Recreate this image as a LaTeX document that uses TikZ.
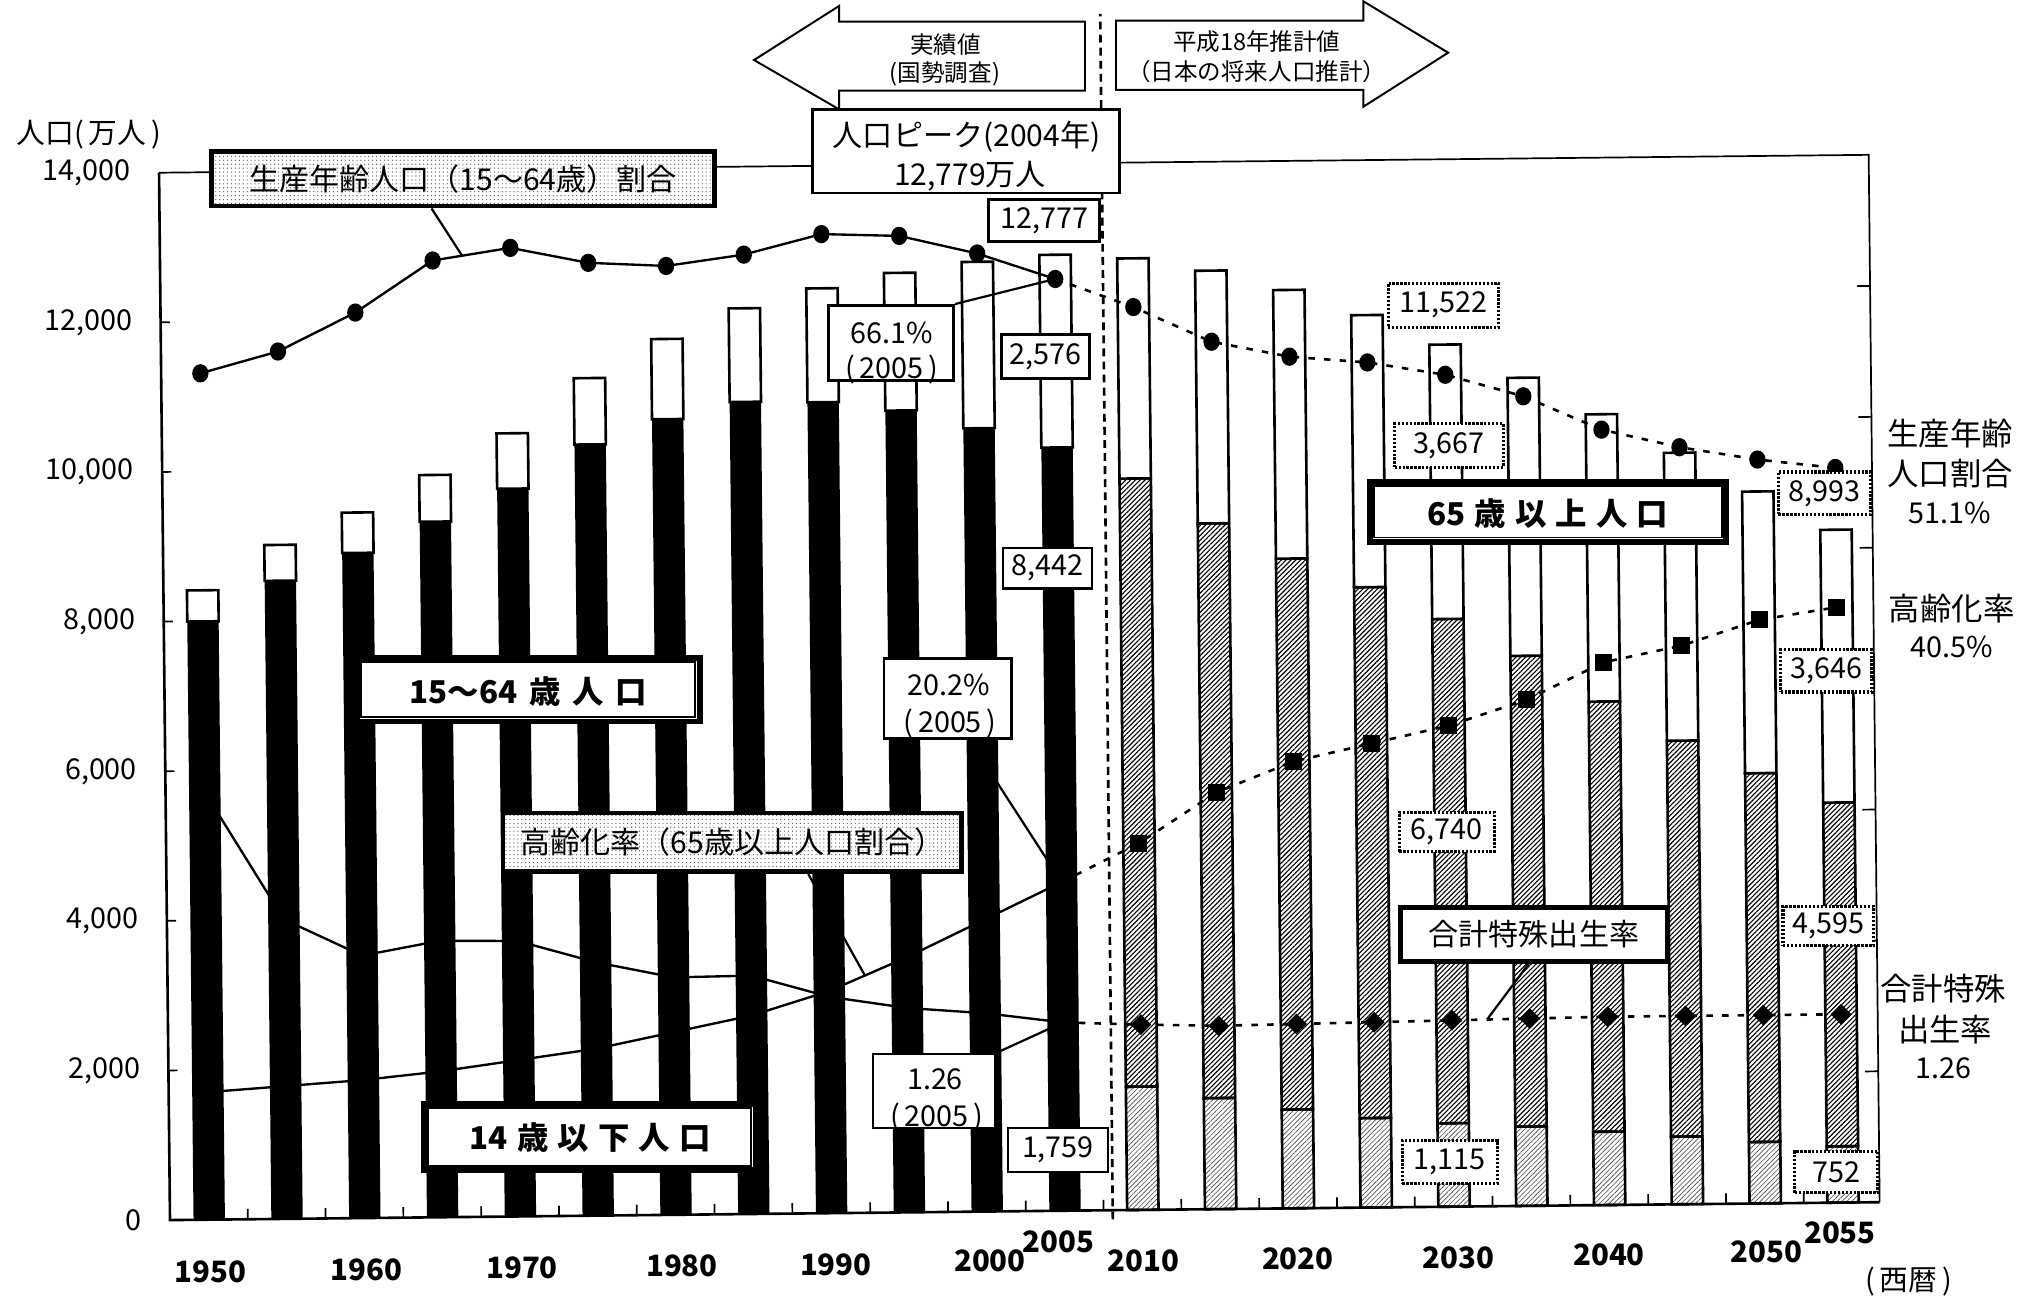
\documentclass[tikz,border=0pt]{standalone}
\usepackage{fontspec}
\setmainfont{Noto Sans CJK JP}
\usetikzlibrary{patterns,patterns.meta,shapes.geometric,calc}
\newcommand\fsz[1]{\fontsize{#1}{#1}\selectfont}
\newcommand\gp{\hspace{7pt}}
\begin{document}
\begin{tikzpicture}[x=1pt,y=1pt,
  barline/.style={draw=black,line width=2pt},
  lightpat/.style={pattern={Lines[angle=45,distance=2.6pt,line width=0.5pt]},pattern color=black!70},
  darkpat/.style={pattern={Lines[angle=45,distance=2.6pt,line width=0.85pt]},pattern color=black},
  sline/.style={line width=1.8pt,line join=round},
  dline/.style={line width=2pt,dash pattern=on 5pt off 7pt},
  conn/.style={line width=1.7pt},
  cmark/.style={ellipse,fill=black,inner sep=0pt,minimum width=12.5pt,minimum height=14pt},
  smark/.style={rectangle,fill=black,inner sep=0pt,minimum size=13pt},
  dmark/.style={diamond,fill=black,inner sep=0pt,minimum width=16pt,minimum height=16pt},
  plainbox/.style={draw,line width=2pt,fill=white,inner sep=0pt,font=\fsz{22}},
  dotbox/.style={draw,line width=2.4pt,dash pattern=on 1.8pt off 1.2pt,fill=white,inner sep=0pt,font=\fsz{22}},
  stipbox/.style={draw,line width=3.5pt,preaction={fill=white},pattern=dots,pattern color=black!65,inner sep=0pt,font=\fsz{23}},
  dblbox/.style={draw,line width=4.5pt,fill=white,inner sep=0pt},
  boldlab/.style={font=\fsz{24}\bfseries,inner sep=0pt},
  lab/.style={font=\fsz{23},inner sep=0pt},
  numlab/.style={font=\fsz{22},inner sep=0pt},
  smalllab/.style={font=\fsz{18},inner sep=0pt},
  sidelab/.style={font=\fsz{24},inner sep=0pt},
  yearlab/.style={font=\fsz{22.5}\bfseries,inner sep=0pt},
  ticklab/.style={font=\fsz{22},inner sep=0pt,anchor=east},
  sepline/.style={line width=2pt,dash pattern=on 6pt off 4pt},
  tickline/.style={line width=1.3pt}
]
\useasboundingbox (0,0) rectangle (1560,-992.6);
\fill[white] (0,0) rectangle (1560,-992.6);

% ---------------- chart (slightly rotated like the scan) ----------------
\begin{scope}[shift={(130,-933)},rotate=0.6]
  % actual bars (census)
  \foreach \k/\a/\b/\c in {0/2979/5017/416,1/3012/5517/479,2/2843/6047/540,3/2553/6744/624,
      4/2515/7212/740,5/2723/7584/887,6/2751/7883/1072,7/2603/8251/1251,8/2249/8590/1522,
      9/2001/8716/1840,10/1847/8622/2224,11/1759/8442/2576}{
    \pgfmathsetmacro\xl{30+59.5*\k-12}
    \pgfmathsetmacro\xr{30+59.5*\k+12}
    \pgfmathsetmacro\yb{(\a+\b)*0.057214}
    \pgfmathsetmacro\yc{(\a+\b+\c)*0.057214}
    \fill[black] (\xl,0) rectangle (\xr,\yb);
    \draw[barline,fill=white] (\xl,\yb) rectangle (\xr,\yc);
  }
  % projected bars
  \foreach \k/\a/\b/\c in {12/1648/8128/2942,13/1484/7681/3378,14/1321/7363/3590,15/1195/7096/3636,
      16/1115/6740/3667,17/1060/6292/3716,18/980/5750/3839,19/904/5292/3848,20/821/4930/3764,
      21/752/4595/3646}{
    \pgfmathsetmacro\xl{30+59.5*\k-12}
    \pgfmathsetmacro\xr{30+59.5*\k+12}
    \pgfmathsetmacro\ya{\a*0.057214}
    \pgfmathsetmacro\yb{(\a+\b)*0.057214}
    \pgfmathsetmacro\yc{(\a+\b+\c)*0.057214}
    \draw[barline,lightpat] (\xl,0) rectangle (\xr,\ya);
    \draw[barline,darkpat] (\xl,\ya) rectangle (\xr,\yb);
    \draw[barline,fill=white] (\xl,\yb) rectangle (\xr,\yc);
  }
  % frame, axes, ticks
  \draw[line width=1.3pt] (0,801) -- (1307.5,801) -- (1307.5,0);
  \draw[line width=2pt] (0,801) -- (0,0) -- (1307.5,0);
  \foreach \k in {1,...,6} \draw[tickline] (0,{114.43*\k}) -- (7,{114.43*\k});
  \foreach \k in {1,...,7} \draw[tickline] (1307.5,{100.1*\k}) -- (1297.5,{100.1*\k});
  \foreach \k in {1,...,21} \draw[tickline] ({59.5*\k},0) -- ({59.5*\k},8);
  \foreach \k/\t in {0/0,1/{2,000},2/{4,000},3/{6,000},4/{8,000},5/{10,000},6/{12,000},7/{14,000}}
    \node[ticklab] (yl\k) at (-21.5,{114.43*\k}) {\t};
  \coordinate (septop) at (721,915);
  \coordinate (sepbot) at (721,-7);
  \draw[sepline] (sepbot) -- (septop);
  % series points
  \foreach \v [count=\i from 0] in {59.6,61.2,64.1,68.0,68.9,67.7,67.4,68.2,69.7,69.5,68.1,66.1,
      63.9,61.2,60.0,59.5,58.5,56.8,54.2,52.8,51.8,51.1}
    \coordinate (c\i) at ({30+59.5*\i},{48.3+10.05*\v});
  \foreach \v [count=\i from 0] in {4.9,5.3,5.7,6.3,7.1,7.9,9.1,10.3,12.1,14.6,17.4,20.2,
      23.1,26.9,29.2,30.5,31.8,33.7,36.5,37.7,39.6,40.5}
    \coordinate (a\i) at ({30+59.5*\i},{48.3+10.05*\v});
  \foreach \v [count=\i from 0] in {3.65,2.37,2.00,2.14,2.13,1.91,1.75,1.76,1.54,1.42,1.36,1.26,
      1.23,1.21,1.22,1.23,1.24,1.25,1.26,1.26,1.26,1.26}
    \coordinate (t\i) at ({30+59.5*\i},{47.5+76.6*\v});
  % lines
  \draw[sline] (c0) \foreach \i in {1,...,11}{ -- (c\i)};
  \draw[sline] (a0) \foreach \i in {1,...,11}{ -- (a\i)};
  \draw[sline] (t0) \foreach \i in {1,...,11}{ -- (t\i)};
  \draw[dline] (c11) \foreach \i in {12,...,21}{ -- (c\i)};
  \draw[dline] (a11) \foreach \i in {12,...,21}{ -- (a\i)};
  \draw[dline] (t11) \foreach \i in {12,...,21}{ -- (t\i)};
  \foreach \i in {0,...,21} \node[cmark] (mc\i) at (c\i) {};
  \foreach \i in {12,...,21} \node[smark] (ma\i) at (a\i) {};
  \foreach \i in {12,...,21} \node[dmark] (mt\i) at (t\i) {};
  \coordinate (cq) at ($(c3)!0.38!(c4)$);
  \coordinate (aq) at ($(a8)!0.46!(a9)$);
  \coordinate (tq) at ($(t16)!0.45!(t17)$);
\end{scope}

% ---------------- top arrows ----------------
\draw[line width=1.5pt,fill=white] (829.7,-16.6) -- (641.6,-16.6) -- (641.6,-4.6) -- (576.6,-45.9)
  -- (641.6,-83.6) -- (641.6,-69.3) -- (829.7,-69.3) -- cycle;
\draw[line width=1.5pt,fill=white] (853.4,-15.8) -- (1042.6,-15.8) -- (1042.6,-1) -- (1107.4,-40.3)
  -- (1042.6,-81.6) -- (1042.6,-68.8) -- (853.4,-68.8) -- cycle;
\node[smalllab] (jisseki) at (723.2,-34.4) {実績値};
\node[smalllab] (kokusei) at (722.6,-56.6) {(国勢調査)};
\node[smalllab] (heisei) at (961,-31.9) {平成18年推計値};
\node[smalllab] (shorai) at (961,-54.8) {（日本の将来人口推計）};

% ---------------- axis title ----------------
\node[font=\fsz{22},inner sep=0pt] (ytitle) at (68,-103) {人口(\,万人\,)};

% ---------------- boxes ----------------
\node[plainbox,minimum width=235,minimum height=63.8] (peak) at (738.7,-115.7) {};
\node[lab] (peak1) at (739.2,-104.5) {人口ピーク(2004年)};
\node[lab] (peak2) at (741.8,-135.1) {12,779万人};

\node[stipbox,minimum width=384.9,minimum height=41.7] (labwa) at (354,-136.8) {生産年齢人口（15～64歳）割合};
\draw[conn] ([xshift=-24pt]labwa.south) -- (cq);

\node[stipbox,minimum width=350.7,minimum height=44.9] (labak) at (560.1,-644.2) {高齢化率（65歳以上人口割合）};
\draw[conn] ([xshift=58pt]labak.south) -- (aq);

\node[plainbox,minimum width=85,minimum height=31.9] (b12777) at (798.5,-168.65) {12,777};
\node[plainbox,minimum width=67.3,minimum height=33.7] (b2576) at (799.35,-272.75) {2,576};
\node[plainbox,minimum width=68,minimum height=31] (b8442) at (801,-434.5) {8,442};
\node[plainbox,minimum width=76.5,minimum height=33.6] (b1759) at (809,-879.4) {1,759};

\node[plainbox,minimum width=95.6,minimum height=57.4] (b661) at (681.5,-262.2) {};
\node[numlab] (b661a) at (681.9,-254.9) {66.1\%};
\node[numlab] (b661b) at (681.9,-282.5) {(\,2005\,)};
\draw[conn] (b661.north east) -- (c11);

\node[plainbox,minimum width=97.4,minimum height=61.2] (b202) at (724.7,-534.3) {};
\node[numlab] (b202a) at (725.2,-523.8) {20.2\%};
\node[numlab] (b202b) at (726.5,-553.6) {(\,2005\,)};
\draw[conn] ([xshift=16.8pt]b202.south) -- (a11);

\node[plainbox,minimum width=93.6,minimum height=56.6] (b126) at (714.4,-834.3) {};
\node[numlab] (b126a) at (715,-825.1) {1.26};
\node[numlab] (b126b) at (716.3,-854.5) {(\,2005\,)};
\draw[conn] (b126.north east) -- (t11);

% double bordered labels
\node[dblbox,minimum width=261.9,minimum height=48.5] (d1564) at (404,-527.5) {};
\draw[line width=1.4pt] ($(d1564.south west)+(5.5,5.5)$) rectangle ($(d1564.north east)+(-5.5,-5.5)$);
\node[boldlab] (l1564) at (404,-529) {15～64\hspace{9pt}歳\hspace{9pt}人\hspace{9pt}口};

\node[dblbox,minimum width=253.5,minimum height=50.5] (d14) at (451,-869.5) {};
\draw[line width=1.4pt] ($(d14.south west)+(5.5,5.5)$) rectangle ($(d14.north east)+(-5.5,-5.5)$);
\node[boldlab] (l14) at (451.4,-870) {14\gp 歳\gp 以\gp 下\gp 人\gp 口};

\node[dblbox,minimum width=272,minimum height=45.7] (d65) at (1183.75,-391.4) {};
\draw[line width=1.4pt] ($(d65.south west)+(5.5,5.5)$) rectangle ($(d65.north east)+(-5.5,-5.5)$);
\node[boldlab] (l65) at (1183.6,-393) {65\gp 歳\gp 以\gp 上\gp 人\gp 口};

\node[draw,line width=3.8pt,fill=white,inner sep=0pt,minimum width=204.2,minimum height=41.2,font=\fsz{23}] (btfr) at (1173,-714.5) {合計特殊出生率};
\draw[conn] ([xshift=-4pt]btfr.south) -- (tq);

% dotted value boxes
\node[dotbox,minimum width=84.7,minimum height=33.7] (v11522) at (1103.85,-233.35) {11,522};
\node[dotbox,minimum width=83,minimum height=33.2] (v3667) at (1108,-340.6) {3,667};
\node[dotbox,minimum width=72.6,minimum height=30.2] (v6740) at (1106.3,-636.1) {6,740};
\node[dotbox,minimum width=72.6,minimum height=32.5] (v1115) at (1108.7,-888.45) {1,115};
\node[dotbox,minimum width=70.3,minimum height=32.7] (v8993) at (1395.15,-377.25) {8,993};
\node[dotbox,minimum width=69.9,minimum height=32.4] (v3646) at (1396.55,-513) {3,646};
\node[dotbox,minimum width=69.4,minimum height=29.9] (v4595) at (1398.1,-707.95) {4,595};
\node[dotbox,minimum width=63.7,minimum height=31.7] (v752) at (1404.25,-896.25) {752};

% right side labels
\node[sidelab] (r1) at (1491.2,-331.4) {生産年齢};
\node[sidelab] (r2) at (1491.2,-362) {人口割合};
\node[numlab] (r3) at (1491.2,-392.5) {51.1\%};
\node[sidelab] (r4) at (1492.5,-465.2) {高齢化率};
\node[numlab] (r5) at (1492.5,-494.5) {40.5\%};
\node[sidelab] (r6) at (1486,-755.8) {合計特殊};
\node[sidelab] (r7) at (1487.4,-787.6) {出生率};
\node[numlab] (r8) at (1486,-817) {1.26};

% year labels
\node[yearlab] (y1950) at (161.2,-972.5) {1950};
\node[yearlab] (y1960) at (280.4,-970.9) {1960};
\node[yearlab] (y1970) at (399.2,-969.6) {1970};
\node[yearlab] (y1980) at (521.5,-968.3) {1980};
\node[yearlab] (y1990) at (639.2,-967.1) {1990};
\node[yearlab] (y2000) at (757,-964.5) {2000};
\node[yearlab] (y2005) at (809.3,-949.5) {2005};
\node[yearlab] (y2010) at (874.5,-964) {2010};
\node[yearlab] (y2020) at (992.5,-962.7) {2020};
\node[yearlab] (y2030) at (1115.3,-962) {2030};
\node[yearlab] (y2040) at (1230.4,-959.5) {2040};
\node[yearlab] (y2050) at (1351,-957.6) {2050};
\node[yearlab] (y2055) at (1407,-942.4) {2055};
\node[font=\fsz{22},inner sep=0pt] (seireki) at (1459.4,-980) {(\,西暦\,)};
\end{tikzpicture}
\end{document}
